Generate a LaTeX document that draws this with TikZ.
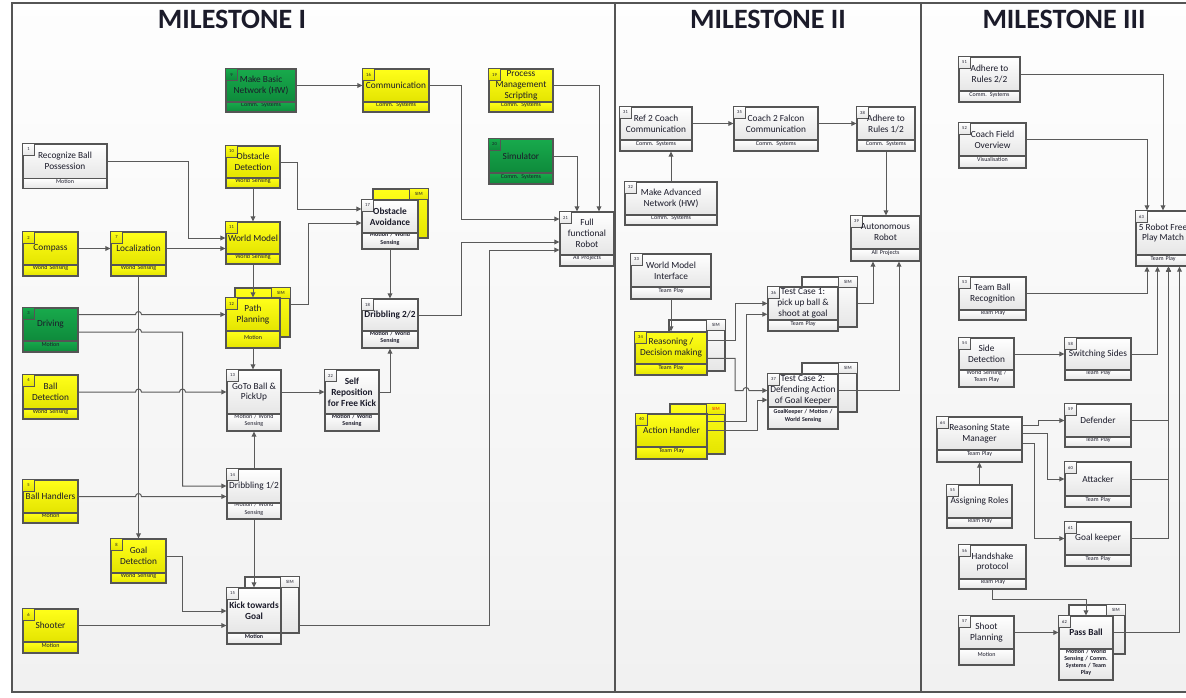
\documentclass[tikz,border=0pt]{standalone}
\usepackage{fontspec}
\setmainfont{Carlito}
\usetikzlibrary{fit,arrows.meta}

\definecolor{framec}{HTML}{555555}
\definecolor{wirec}{HTML}{5A5A5A}
\definecolor{ytop}{HTML}{FFFF1A}
\definecolor{ybot}{HTML}{E4E400}
\definecolor{gtop}{HTML}{18AA4C}
\definecolor{gbot}{HTML}{0E8A3B}
\definecolor{wtop}{HTML}{FFFFFF}
\definecolor{wbot}{HTML}{E6E6E6}
\definecolor{ink}{HTML}{1B1B2A}
\definecolor{simred}{HTML}{F01010}

% font switches, set per box through the style keys below
\gdef\tbbf{}\gdef\tbcbf{}

\tikzset{
  ybox/.style={draw=framec, top color=ytop, bottom color=ybot},
  gbox/.style={draw=framec, top color=gtop, bottom color=gbot},
  wbox/.style={draw=framec, top color=wtop, bottom color=wbot},
  boldtext/.code={\gdef\tbbf{\bfseries}},
  boldcat/.code={\gdef\tbcbf{\bfseries}},
  mainbox/.style={line width=1pt},
  boxtext/.style={inner sep=0pt, align=center, text=ink,
    font=\fontsize{7}{8.2}\selectfont\tbbf},
  catbox/.style={line width=1pt, align=center, text=ink,
    font=\fontsize{4.5}{5.3}\selectfont\tbbf\tbcbf},
  numtag/.style={line width=0.7pt, minimum width=8.6pt, minimum height=8.6pt,
    inner sep=0pt, text=ink, font=\fontsize{3.4}{3.4}\selectfont},
  shadowbox/.style={line width=1pt},
  simtag/.style={line width=0.7pt, minimum width=14pt, minimum height=8.2pt,
    inner sep=0pt, font=\fontsize{3.6}{3.6}\selectfont},
  conn/.style={draw=wirec, line width=0.75pt,
    -{Triangle[length=3.8pt,width=3.6pt]}},
  title/.style={text=ink, font=\fontsize{21}{21}\selectfont\bfseries},
  panel/.style={draw=framec, line width=1pt}
}

% task box: name, kind, x1, y1, x2, divider y, y2, number; then {text}{category}
\newcommand\tbox[8]{%
  \gdef\tbbf{}\gdef\tbcbf{}%
  \def\tbname{#1}%
  \tikzset{tbkind/.style={#2}}%
  \coordinate (tbA) at (#3,#4);
  \coordinate (tbB) at (#5,#6);
  \coordinate (tbC) at (#3,#6);
  \coordinate (tbD) at (#5,#7);
  \def\tbnum{#8}%
  \tbfinish}
\newcommand\tbfinish[2]{%
  \node[inner sep=0pt, fit=(tbC)(tbD), tbkind, catbox] (\tbname c) {#2};
  \node[inner sep=0pt, fit=(tbA)(tbB), tbkind, mainbox] (\tbname) {};
  \node[tbkind, numtag, anchor=north west] (\tbname n) at (\tbname.north west) {\tbnum};
  \node[boxtext] (\tbname x) at (\tbname.center) {#1};
}
% simulation copy behind a box: name, kind, x1, y1, x2, y2, label colour
\newcommand\simbox[7]{%
  \node[inner sep=0pt, fit={(#3,#4)(#5,#6)}, #2, shadowbox] (#1s) {};
  \node[#2, simtag, text=#7, anchor=north east] (#1t) at (#1s.north east) {SIM};
}

\begin{document}
\begin{tikzpicture}[x=0.75pt, y=-0.75pt]
\useasboundingbox (0,0) rectangle (1186,697);
\clip (0,0) rectangle (1186,697);

% background and milestone panels
\fill[white] (0,0) rectangle (1186,697);
\fill[top color=gray!1, bottom color=gray!11] (12,3) rectangle (1200,692);
\draw[panel] (12,3) rectangle (1200,692);
\draw[panel] (615,3) -- (615,692);
\draw[panel] (921,3) -- (921,692);

\node[title] (t1) at (232,19) {MILESTONE I};
\node[title] (t2) at (768,19) {MILESTONE II};
\node[title] (t3) at (1064,19) {MILESTONE III};

% simulation copies
\simbox{b12}{ybox}{235}{288}{290}{337}{ink}
\simbox{b15}{wbox}{245}{577}{299}{633}{ink}
\simbox{b17}{ybox}{373}{189}{428}{238}{ink}
\simbox{b34}{wbox}{669}{320}{725}{371}{ink}
\simbox{b36}{wbox}{802}{277}{857}{327}{ink}
\simbox{b37}{wbox}{802}{363}{857}{412}{ink}
\simbox{b40}{ybox}{670}{404}{725}{454}{simred}
\simbox{b62}{wbox}{1069}{605}{1125}{654}{ink}

% ---- Milestone I
\tbox{b1}{wbox}{23}{144}{107}{178.5}{188.5}{1}{Recognize Ball\\Possession}{Motion}
\tbox{b2}{ybox}{23}{232}{78}{265}{276}{2}{Compass}{World Sensing}
\tbox{b3}{gbox}{23}{308}{78}{341}{352}{3}{Driving}{Motion}
\tbox{b4}{ybox}{23}{375}{78}{409}{419}{4}{Ball\\Detection}{World Sensing}
\tbox{b5}{ybox}{23}{480}{78}{513}{523}{5}{Ball Handlers}{Motion}
\tbox{b6}{ybox}{23}{609}{78}{642}{653}{6}{Shooter}{Motion}
\tbox{b7}{ybox}{111}{232}{166}{265}{276}{7}{Localization}{World Sensing}
\tbox{b8}{ybox}{111}{539}{166}{573}{583}{8}{Goal\\Detection}{World Sensing}
\tbox{b9}{gbox}{226}{69}{296}{102}{112}{9}{Make Basic\\Network (HW)}{Comm. Systems}
\tbox{b10}{ybox}{226}{146}{280}{178}{188}{10}{Obstacle\\Detection}{World Sensing}
\tbox{b11}{ybox}{226}{222}{280}{254}{264}{11}{World Model}{World Sensing}
\tbox{b12}{ybox}{226}{298}{280}{331}{348}{12}{Path\\Planning}{Motion}
\tbox{b13}{wbox}{227}{370}{281}{414}{431}{13}{GoTo Ball \&\\PickUp}{Motion / World\\Sensing}
\tbox{b14}{wbox}{227}{469}{281}{503}{519}{14}{Dribbling 1/2}{Motion / World\\Sensing}
\tbox{b15}{wbox,boldtext}{227}{588}{281}{633}{644}{15}{Kick towards\\Goal}{Motion}
\tbox{b16}{ybox}{363}{69}{429}{102}{112}{16}{Communication}{Comm. Systems}
\tbox{b17}{wbox,boldtext}{362}{200}{418}{233}{249}{17}{Obstacle\\Avoidance}{Motion / World\\Sensing}
\tbox{b18}{wbox,boldtext}{362}{299}{418}{331}{348}{18}{Dribbling 2/2}{Motion / World\\Sensing}
\tbox{b19}{ybox}{489}{69}{553}{102}{112}{19}{Process\\Management\\Scripting}{Comm. Systems}
\tbox{b20}{gbox}{489}{139}{553}{173}{184}{20}{Simulator}{Comm. Systems}
\tbox{b21}{wbox}{560}{212}{614}{255}{266}{21}{Full\\functional\\Robot}{All Projects}
\tbox{b22}{wbox,boldtext}{325}{370}{379}{414}{431}{22}{Self\\Reposition\\for Free Kick}{Motion / World\\Sensing}

% ---- Milestone II
\tbox{b31}{wbox}{620}{107}{692}{140}{151}{31}{Ref 2 Coach\\Communication}{Comm. Systems}
\tbox{b35}{wbox}{734}{107}{818}{140}{151}{35}{Coach 2 Falcon\\Communication}{Comm. Systems}
\tbox{b38}{wbox}{857}{107}{915}{140}{151}{38}{Adhere to\\Rules 1/2}{Comm. Systems}
\tbox{b32}{wbox}{625}{182}{717}{215}{225}{32}{Make Advanced\\Network (HW)}{Comm. Systems}
\tbox{b39}{wbox}{851}{216}{920}{249}{261}{39}{Autonomous\\Robot}{All Projects}
\tbox{b33}{wbox}{631}{254}{711}{287}{299}{33}{World Model\\Interface}{Team Play}
\tbox{b34}{ybox}{635}{332}{707}{364}{375}{34}{Reasoning /\\Decision making}{Team Play}
\tbox{b36}{wbox}{768}{287}{838}{320}{331}{36}{Test Case 1:\\pick up ball \&\\shoot at goal}{Team Play}
\tbox{b37}{wbox,boldcat}{768}{374}{838}{407}{429}{37}{Test Case 2:\\Defending Action\\of Goal Keeper}{GoalKeeper / Motion /\\World Sensing}
\tbox{b40}{ybox}{636}{414}{707}{447}{459}{40}{Action Handler}{Team Play}

% ---- Milestone III
\tbox{b51}{wbox}{959}{57}{1020}{91}{102}{51}{Adhere to\\Rules 2/2}{Comm. Systems}
\tbox{b52}{wbox}{959}{123}{1026}{156}{168}{52}{Coach Field\\Overview}{Visualisation}
\tbox{b63}{wbox}{1136}{211}{1190}{255}{266}{63}{5 Robot Free\\Play Match}{Team Play}
\tbox{b53}{wbox}{959}{277}{1026}{310}{320}{53}{Team Ball\\Recognition}{Team Play}
\tbox{b54}{wbox}{959}{338}{1014}{370}{387}{54}{Side\\Detection}{World Sensing /\\Team Play}
\tbox{b58}{wbox}{1065}{338}{1131}{370}{380}{58}{Switching Sides}{Team Play}
\tbox{b59}{wbox}{1065}{404}{1131}{437}{447}{59}{Defender}{Team Play}
\tbox{b64}{wbox}{937}{417}{1022}{450}{462}{64}{Reasoning State\\Manager}{Team Play}
\tbox{b60}{wbox}{1065}{462}{1131}{496}{507}{60}{Attacker}{Team Play}
\tbox{b55}{wbox}{947}{485}{1012}{518}{528}{55}{Assigning Roles}{Team Play}
\tbox{b61}{wbox}{1065}{522}{1131}{555}{566}{61}{Goal keeper}{Team Play}
\tbox{b56}{wbox}{959}{545}{1026}{579}{589}{56}{Handshake\\protocol}{Team Play}
\tbox{b57}{wbox}{959}{616}{1014}{649}{665}{57}{Shoot\\Planning}{Motion}
\tbox{b62}{wbox,boldtext}{1059}{616}{1113}{649}{680}{62}{Pass Ball}{Motion / World\\Sensing / Comm.\\Systems / Team\\Play}

% ---- connectors, Milestone I
\draw[conn] (b9.east) -- (b16.west);
\draw[conn] (b16.east) -| (461,219) -- (b21.west |- 0,219);
\draw[conn] (b19.east) -| (b21.north -| 599,0);
\draw[conn] (b20.east) -| (b21.north -| 577,0);
\draw[conn] (b10.east) -| (297,209) -- (b17.west |- 0,209);
\draw[conn] (b10c.south) -- (b11.north);
\draw[conn] (b12s.east |- 0,304) -| (308,223) -- (b17.west |- 0,223);
\draw[conn] (b11c.south) -- (b12.north);
\draw[conn] (b17c.south) -- (b18.north);
\draw[conn] (b18.east) -| (461,242) -- (b21.west |- 0,242);
\draw[conn] (b15s.east |- 0,625) -| (489,250) -- (b21.west |- 0,250);
\draw[conn] (b12c.south) -- (b13.north -| b12c.south);
\draw[conn] (b13.east) -- (b22.west);
\draw[conn] (b22.east) -| (b18c.south);
\draw[conn] (b14.north) -- (b13c.south);
\draw[conn] (b14c.south) -- (b15.north);
\draw[conn] (b1.east) -| (188,238) -- (b11.west);
\draw[conn] (b2.east) -- (b7.west);
\draw[conn] (b7.east) -- (b11.west |- 0,248.5);
\draw[conn] (b7c.south) -- (b8.north);
\draw[conn] (b3.east |- b12.west) -- (135.5,314.5)
  arc[start angle=180, end angle=360, radius=3] -- (b12.west);
\draw[conn] (b3.east |- 0,332) -- (135.5,332)
  arc[start angle=180, end angle=360, radius=3] -- (182.5,332) |- (b14.west);
\draw[conn] (b4.east) -- (135.5,392)
  arc[start angle=180, end angle=360, radius=3] -- (179.5,392)
  arc[start angle=180, end angle=360, radius=3] -- (b13.west);
\draw[conn] (b5.east) -- (135.5,496.5)
  arc[start angle=180, end angle=360, radius=3] -- (b14.west |- 0,496.5);
\draw[conn] (b8.east) -| (182.5,611) -- (b15.west |- 0,611);
\draw[conn] (b6.east) -- (b15.west |- 0,625.5);

% ---- connectors, Milestone II
\draw[conn] (b31.east) -- (b35.west);
\draw[conn] (b35.east) -- (b38.west);
\draw[conn] (b32.north) -- (b31c.south -| b32.north);
\draw[conn] (b38c.south) -- (b39.north -| b38c.south);
\draw[conn] (b33c.south) -- (b34.north -| b33c.south);
\draw[conn] (b36s.east |- 0,303) -| (b39c.south -| 873,0);
\draw[conn] (b37.east) -| (b39c.south -| 899,0);
\draw[conn] (b34.east |- 0,340) -| (735,303.5) -- (b36.west);
\draw[conn] (b40.east |- 0,421.7) -| (746,314.3) -- (b36.west |- 0,314.3);
\draw[conn] (b34.east |- 0,358.3) -| (735,390.5) -- (743,390.5)
  arc[start angle=180, end angle=360, radius=3] -- (b37.west);
\draw[conn] (b40.east) -| (757,400) -- (b37.west |- 0,400);

% ---- connectors, Milestone III
\draw[conn] (b51.east) -| (b63.north -| 1163,0);
\draw[conn] (b52.east) -| (b63.north -| 1147,0);
\draw[conn] (b53.east) -| (b63c.south -| 1147,0);
\draw[conn] (b58.east) -| (b63c.south -| 1157.5,0);
\draw[conn] (b54.east) -- (b58.west);
\draw[conn] (b59.east) -| (b63c.south -| 1168.5,0);
\draw[conn] (b60.east) -| (b63c.south -| 1168.5,0);
\draw[conn] (b61.east) -| (b63c.south -| 1168.5,0);
\draw[conn] (b62.east) -| (b63c.south -| 1179.5,0);
\draw[conn] (b64.east |- 0,425.3) -| (1038.3,420.5) -- (b59.west);
\draw[conn] (b64.east) -| (1047.7,479) -- (b60.west);
\draw[conn] (b64.east |- 0,443.3) -| (1034.3,538.5) -- (b61.west);
\draw[conn] (b55.north) -- (b64c.south);
\draw[conn] (b56c.south) |- (1086,599) -- (b62.north);
\draw[conn] (b57.east) -- (b62.west);
\end{tikzpicture}
\end{document}
